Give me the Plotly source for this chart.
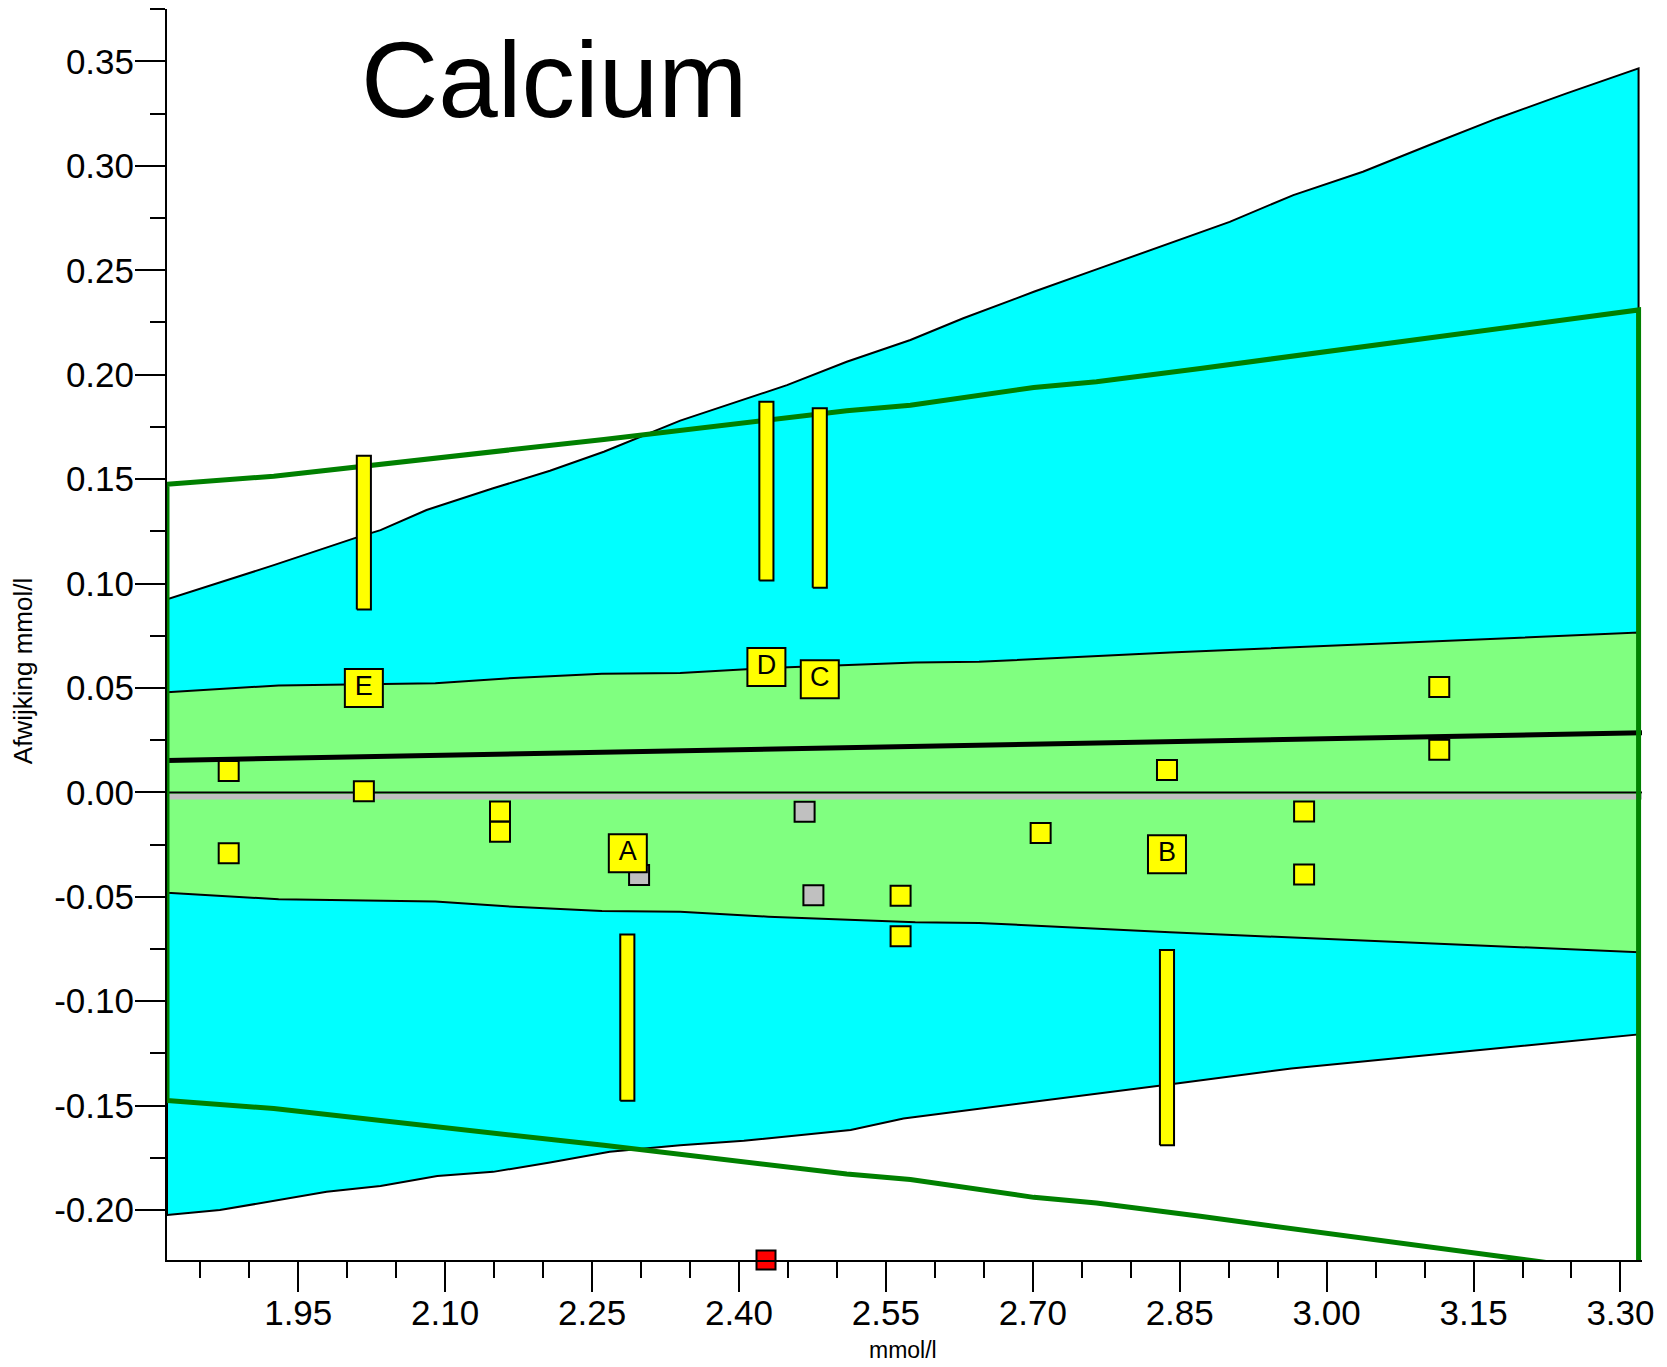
import plotly.graph_objects as go

# ---------------- data ----------------
# outer (cyan) band
cyan_up_x = [1.816, 1.925, 2.010, 2.034, 2.081, 2.149, 2.207, 2.262, 2.340, 2.449, 2.510, 2.575,
             2.629, 2.701, 2.765, 2.871, 2.901, 2.966, 3.037, 3.105, 3.174, 3.245, 3.3185]
cyan_up_y = [0.0924, 0.1088, 0.1221, 0.1256, 0.1352, 0.1456, 0.1540, 0.1631, 0.1780, 0.1950, 0.2062, 0.2166,
             0.2270, 0.2397, 0.2504, 0.2684, 0.2732, 0.2860, 0.2972, 0.3100, 0.3227, 0.3347, 0.3467]
cyan_lo_x = [1.816, 1.870, 1.925, 1.979, 2.034, 2.092, 2.149, 2.207, 2.268, 2.340, 2.405, 2.514,
             2.568, 2.698, 2.839, 2.964, 3.111, 3.3185]
cyan_lo_y = [-0.2024, -0.2000, -0.1955, -0.1912, -0.1885, -0.1837, -0.1817, -0.1772, -0.1721, -0.1689, -0.1668, -0.1617,
             -0.1561, -0.1485, -0.1399, -0.1322, -0.1256, -0.1159]

# inner (light green) band, symmetric around zero
inner_x = [1.816, 1.93, 2.09, 2.17, 2.26, 2.34, 2.43, 2.58, 2.645, 2.84, 3.3185]
inner_top = [0.0480, 0.0512, 0.0522, 0.0548, 0.0568, 0.0572, 0.0595, 0.0622, 0.0625, 0.0670, 0.0765]

# green limit lines, symmetric around zero
green_x = [1.816, 1.925, 2.262, 2.340, 2.510, 2.575, 2.701, 2.765, 2.871, 3.3185]
green_top = [0.1475, 0.1514, 0.1690, 0.1733, 0.1827, 0.1854, 0.1939, 0.1966, 0.2030, 0.2310]

# regression line
center_x = [1.816, 3.322]
center_y = [0.0153, 0.0285]

# zero reference lines
zero_x = [1.816, 3.322]
zero_black_y = [0.0, 0.0]
zero_gray_y = [-0.0021, -0.0021]

# ranges (vertical bars)
bar_labels = ["E", "D", "C", "A", "B"]
bar_x = [2.017, 2.428, 2.4825, 2.286, 2.837]
bar_low = [0.0876, 0.1015, 0.0980, -0.1477, -0.1689]
bar_high = [0.1612, 0.1870, 0.1839, -0.0680, -0.0755]
bar_halfwidth = 0.0072

# small yellow points
pts_x = [1.879, 1.879, 2.017, 2.156, 2.156, 2.565, 2.565, 2.708, 2.837, 2.977, 2.977, 3.115, 3.115]
pts_y = [0.0102, -0.0292, 0.0006, -0.0092, -0.0189, -0.0495, -0.0689, -0.0194, 0.0107, -0.0092, -0.0393, 0.0505, 0.0204]

# grey points
grey_x = [2.298, 2.467, 2.476]
grey_y = [-0.0396, -0.0093, -0.0492]

# labelled points
lab_text = ["A", "B", "C", "D", "E"]
lab_x = [2.2865, 2.837, 2.4825, 2.428, 2.017]
lab_y = [-0.0292, -0.0296, 0.0542, 0.0600, 0.0500]

# red point (off scale, at bottom)
red_x = [2.4276]
red_y = [-0.2239]

x_range = [1.816, 3.322]
y_range = [-0.2239, 0.3751]
x_tickvals = [1.95, 2.10, 2.25, 2.40, 2.55, 2.70, 2.85, 3.00, 3.15, 3.30]
x_ticktext = ["1.95", "2.10", "2.25", "2.40", "2.55", "2.70", "2.85", "3.00", "3.15", "3.30"]
y_tickvals = [0.35, 0.30, 0.25, 0.20, 0.15, 0.10, 0.05, 0.0, -0.05, -0.10, -0.15, -0.20]
y_ticktext = ["0.35", "0.30", "0.25", "0.20", "0.15", "0.10", "0.05", "0.00", "-0.05", "-0.10", "-0.15", "-0.20"]

title_text = "Calcium"
x_title = "mmol/l"
y_title = "Afwijking mmol/l"

FONT = "Liberation Sans, Arial, sans-serif"

# ---------------- figure ----------------
fig = go.Figure()

# cyan band
fig.add_trace(go.Scatter(
    x=cyan_up_x + cyan_lo_x[::-1] + [cyan_up_x[0]],
    y=cyan_up_y + cyan_lo_y[::-1] + [cyan_up_y[0]],
    mode="lines", fill="toself", fillcolor="#00FFFF",
    line=dict(color="black", width=2), hoverinfo="skip"))

# inner light green band
fig.add_trace(go.Scatter(
    x=inner_x + inner_x[::-1] + [inner_x[0]],
    y=inner_top + [-v for v in inner_top[::-1]] + [inner_top[0]],
    mode="lines", fill="toself", fillcolor="#80FF80",
    line=dict(color="black", width=2), hoverinfo="skip"))

# zero lines
fig.add_trace(go.Scatter(x=zero_x, y=zero_gray_y, mode="lines",
                         line=dict(color="#C0C0C0", width=5.5), hoverinfo="skip"))
fig.add_trace(go.Scatter(x=zero_x, y=zero_black_y, mode="lines",
                         line=dict(color="black", width=2), hoverinfo="skip"))

# regression line
fig.add_trace(go.Scatter(x=center_x, y=center_y, mode="lines",
                         line=dict(color="black", width=5), hoverinfo="skip"))

# green limits (closed outline)
gx = green_x + green_x[::-1] + [green_x[0]]
gy = green_top + [-v for v in green_top[::-1]] + [green_top[0]]
fig.add_trace(go.Scatter(x=gx, y=gy, mode="lines",
                         line=dict(color="#008000", width=5), hoverinfo="skip"))

# range bars (rectangles built from the bar data)
rx, ry = [], []
for xc, lo, hi in zip(bar_x, bar_low, bar_high):
    rx += [xc - bar_halfwidth, xc + bar_halfwidth, xc + bar_halfwidth, xc - bar_halfwidth, xc - bar_halfwidth, None]
    ry += [lo, lo, hi, hi, lo, None]
fig.add_trace(go.Scatter(x=rx, y=ry, mode="lines", fill="toself", fillcolor="#FFFF00",
                         line=dict(color="black", width=2), hoverinfo="skip"))

# small points
fig.add_trace(go.Scatter(x=pts_x, y=pts_y, mode="markers",
                         marker=dict(symbol="square", size=20, color="#FFFF00",
                                     line=dict(color="black", width=2))))
fig.add_trace(go.Scatter(x=grey_x, y=grey_y, mode="markers",
                         marker=dict(symbol="square", size=20, color="#C0C0C0",
                                     line=dict(color="black", width=2))))

# labelled points
fig.add_trace(go.Scatter(x=lab_x, y=lab_y, mode="markers+text", text=lab_text,
                         textposition="middle center",
                         textfont=dict(family=FONT, size=27, color="black"),
                         marker=dict(symbol="square", size=38, color="#FFFF00",
                                     line=dict(color="black", width=2))))

# red point
fig.add_trace(go.Scatter(x=red_x, y=red_y, mode="markers", cliponaxis=False,
                         marker=dict(symbol="square", size=19, color="#FF0000",
                                     line=dict(color="black", width=2))))

axis_common = dict(
    showgrid=False, zeroline=False, showline=True, linecolor="black", linewidth=2,
    ticks="outside", ticklen=30, tickwidth=2, tickcolor="black",
    tickfont=dict(family=FONT, size=35, color="black"),
)

fig.update_xaxes(
    range=x_range, tickmode="array", tickvals=x_tickvals, ticktext=x_ticktext,
    ticklabelstandoff=-9,
    minor=dict(ticks="outside", ticklen=16, tickwidth=2, tickcolor="black",
               tickmode="linear", tick0=1.95, dtick=0.05, showgrid=False),
    **axis_common)
fig.update_yaxes(
    range=y_range, tickmode="array", tickvals=y_tickvals, ticktext=y_ticktext,
    ticklabelstandoff=-6,
    minor=dict(ticks="outside", ticklen=15, tickwidth=2, tickcolor="black",
               tickmode="linear", tick0=0, dtick=0.025, showgrid=False),
    **axis_common)

fig.update_layout(
    width=1667, height=1367,
    margin=dict(l=167, r=25, t=9, b=107),
    paper_bgcolor="white", plot_bgcolor="white",
    showlegend=False,
    annotations=[
        dict(text=title_text, xref="paper", yref="paper", x=0.1305, y=0.9435,
             xanchor="left", yanchor="middle", showarrow=False,
             font=dict(family=FONT, size=107, color="black")),
        dict(text=x_title, xref="paper", yref="paper", x=0.4987, y=-0.0719,
             xanchor="center", yanchor="middle", showarrow=False,
             font=dict(family=FONT, size=23, color="black")),
        dict(text=y_title, xref="paper", yref="paper", x=-0.0977, y=0.4706,
             xanchor="center", yanchor="middle", showarrow=False, textangle=-90,
             font=dict(family=FONT, size=26, color="black")),
    ],
)

fig.write_html("out.html")
